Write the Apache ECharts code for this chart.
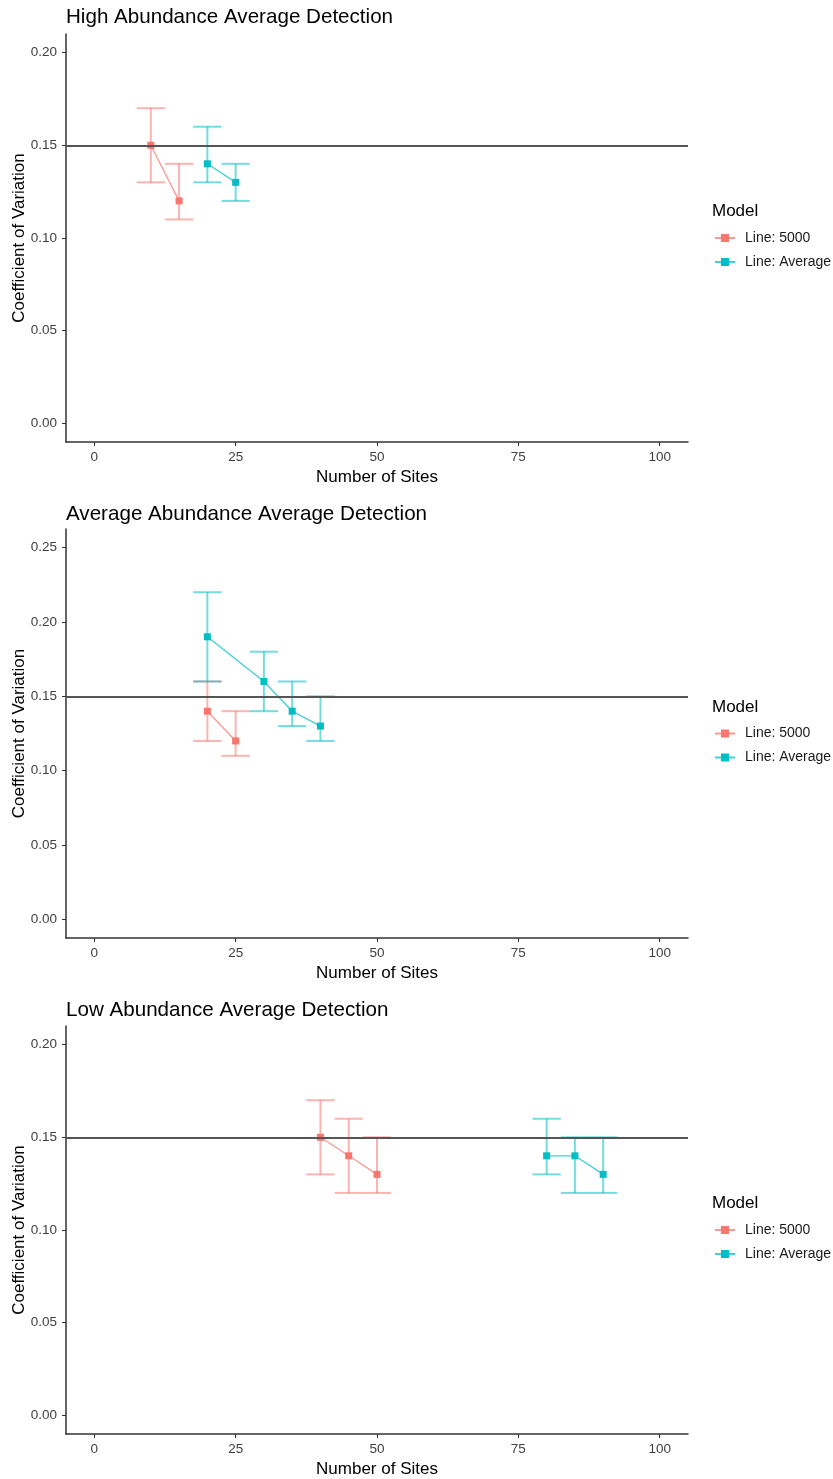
<!DOCTYPE html>
<html>
<head>
<meta charset="utf-8">
<script src="https://cdn.jsdelivr.net/npm/echarts@6/dist/echarts.min.js"></script>
<style>
html,body{margin:0;padding:0;background:#fff;}
#chart{width:833px;height:1479px;}
</style>
</head>
<body>
<div id="chart"></div>
<script>
// ---------- data ----------
const panelTitles = ['High Abundance Average Detection', 'Average Abundance Average Detection', 'Low Abundance Average Detection'];
const seriesNames = ['Line: 5000', 'Line: Average'];
const xTicks = [0, 25, 50, 75, 100];
const yTicksHigh = [0, 0.05, 0.10, 0.15, 0.20];
const yTicksAvg = [0, 0.05, 0.10, 0.15, 0.20, 0.25];
const yTicksLow = [0, 0.05, 0.10, 0.15, 0.20];
const refCV = 0.15;

// High abundance
const high5000Sites = [10, 15];
const high5000CV = [0.15, 0.12];
const high5000Lo = [0.13, 0.11];
const high5000Hi = [0.17, 0.14];
const highAvgSites = [20, 25];
const highAvgCV = [0.14, 0.13];
const highAvgLo = [0.13, 0.12];
const highAvgHi = [0.16, 0.14];

// Average abundance
const avg5000Sites = [20, 25];
const avg5000CV = [0.14, 0.12];
const avg5000Lo = [0.12, 0.11];
const avg5000Hi = [0.16, 0.14];
const avgAvgSites = [20, 30, 35, 40];
const avgAvgCV = [0.19, 0.16, 0.14, 0.13];
const avgAvgLo = [0.16, 0.14, 0.13, 0.12];
const avgAvgHi = [0.22, 0.18, 0.16, 0.15];

// Low abundance
const low5000Sites = [40, 45, 50];
const low5000CV = [0.15, 0.14, 0.13];
const low5000Lo = [0.13, 0.12, 0.12];
const low5000Hi = [0.17, 0.16, 0.15];
const lowAvgSites = [80, 85, 90];
const lowAvgCV = [0.14, 0.14, 0.13];
const lowAvgLo = [0.13, 0.12, 0.12];
const lowAvgHi = [0.16, 0.15, 0.15];

// ---------- styling / layout ----------
const COLORS = ['#F8766D', '#00BFC4'];
const CAP = 2.5; // half width of error bar caps, in x units
const FONT = 'Liberation Sans, Arial, sans-serif';

const panels = [
  { top: 34, height: 408, titleTop: 2, yMin: -0.01, yMax: 0.21, yTicks: yTicksHigh,
    groups: [[high5000Sites, high5000CV, high5000Lo, high5000Hi], [highAvgSites, highAvgCV, highAvgLo, highAvgHi]] },
  { top: 529, height: 409, titleTop: 499, yMin: -0.0125, yMax: 0.2625, yTicks: yTicksAvg,
    groups: [[avg5000Sites, avg5000CV, avg5000Lo, avg5000Hi], [avgAvgSites, avgAvgCV, avgAvgLo, avgAvgHi]] },
  { top: 1026, height: 408, titleTop: 995, yMin: -0.01, yMax: 0.21, yTicks: yTicksLow,
    groups: [[low5000Sites, low5000CV, low5000Lo, low5000Hi], [lowAvgSites, lowAvgCV, lowAvgLo, lowAvgHi]] }
];

const GRID_LEFT = 66, GRID_W = 622;

function errRender(params, api) {
  const x = api.value(0), lo = api.value(1), hi = api.value(2);
  const pTop = api.coord([x, hi]);
  const pBot = api.coord([x, lo]);
  const l = api.coord([x - CAP, hi])[0];
  const r = api.coord([x + CAP, hi])[0];
  const style = { stroke: api.visual('color'), lineWidth: 2, opacity: 0.55 };
  return {
    type: 'group',
    children: [
      { type: 'line', shape: { x1: pTop[0], y1: pTop[1], x2: pBot[0], y2: pBot[1] }, style },
      { type: 'line', shape: { x1: l, y1: pTop[1], x2: r, y2: pTop[1] }, style },
      { type: 'line', shape: { x1: l, y1: pBot[1], x2: r, y2: pBot[1] }, style }
    ]
  };
}

const grids = [], xAxes = [], yAxes = [], titles = [], legends = [], series = [];

panels.forEach((p, i) => {
  grids.push({ left: GRID_LEFT, top: p.top, width: GRID_W, height: p.height,
    containLabel: false, outerBoundsMode: 'none' });
  xAxes.push({
    type: 'value', gridIndex: i, min: -5, max: 105,
    name: 'Number of Sites', nameLocation: 'middle', nameGap: 27,
    nameTextStyle: { fontFamily: FONT, fontSize: 17, color: '#000' },
    axisLine: { show: true, onZero: false, lineStyle: { color: '#333', width: 1.5 } },
    axisTick: { show: true, length: 4, lineStyle: { color: '#333', width: 1 }, customValues: xTicks },
    axisLabel: { fontFamily: FONT, fontSize: 13.5, color: '#404040', margin: 8, customValues: xTicks },
    splitLine: { show: false }
  });
  yAxes.push({
    type: 'value', gridIndex: i, min: p.yMin, max: p.yMax,
    name: 'Coefficient of Variation', nameLocation: 'middle', nameGap: 38, nameRotate: 90,
    nameMoveOverlap: false,
    nameTextStyle: { fontFamily: FONT, fontSize: 17, color: '#000' },
    axisLine: { show: true, onZero: false, lineStyle: { color: '#333', width: 1.5 } },
    axisTick: { show: true, length: 4, lineStyle: { color: '#333', width: 1 }, customValues: p.yTicks },
    axisLabel: { fontFamily: FONT, fontSize: 13.5, color: '#404040', margin: 9, customValues: p.yTicks,
      formatter: v => v.toFixed(2) },
    splitLine: { show: false }
  });
  titles.push({
    text: panelTitles[i], left: 61, top: p.titleTop,
    textStyle: { fontFamily: FONT, fontSize: 20.6, fontWeight: 'normal', color: '#000' }
  });
  const center = p.top + p.height / 2;
  titles.push({
    text: 'Model', left: 707, top: center - 40,
    textStyle: { fontFamily: FONT, fontSize: 17, fontWeight: 'normal', color: '#000' }
  });
  legends.push({
    data: seriesNames, orient: 'vertical', left: 714, top: center - 7, padding: 0,
    itemWidth: 20, itemHeight: 10, itemGap: 10,
    textStyle: { fontFamily: FONT, fontSize: 14, color: '#1a1a1a', padding: [0, 0, 0, 5] }
  });
  // reference line
  series.push({
    type: 'line', xAxisIndex: i, yAxisIndex: i, data: [], z: 1, silent: true,
    markLine: {
      symbol: 'none', silent: true, label: { show: false },
      lineStyle: { color: '#555', width: 2, type: 'solid' },
      data: [{ yAxis: refCV }]
    }
  });
  p.groups.forEach((g, k) => {
    const [sites, cv] = g;
    series.push({
      type: 'line', name: seriesNames[k], xAxisIndex: i, yAxisIndex: i, z: 3,
      color: COLORS[k], symbol: 'rect', symbolSize: 7, showSymbol: true,
      lineStyle: { width: 1.3, opacity: 0.75 },
      itemStyle: { color: COLORS[k] },
      data: sites.map((s, j) => [s, cv[j]])
    });
  });
  p.groups.forEach((g, k) => {
    const [sites, cv, lo, hi] = g;
    series.push({
      type: 'custom', xAxisIndex: i, yAxisIndex: i, z: 2,
      color: COLORS[k], renderItem: errRender,
      encode: { x: 0, y: [1, 2] },
      data: sites.map((s, j) => [s, lo[j], hi[j]])
    });
  });
});

const chart = echarts.init(document.getElementById('chart'), null, { renderer: 'canvas' });
chart.setOption({
  backgroundColor: '#fff',
  animation: false,
  title: titles,
  legend: legends,
  grid: grids,
  xAxis: xAxes,
  yAxis: yAxes,
  series: series
});
</script>
</body>
</html>
